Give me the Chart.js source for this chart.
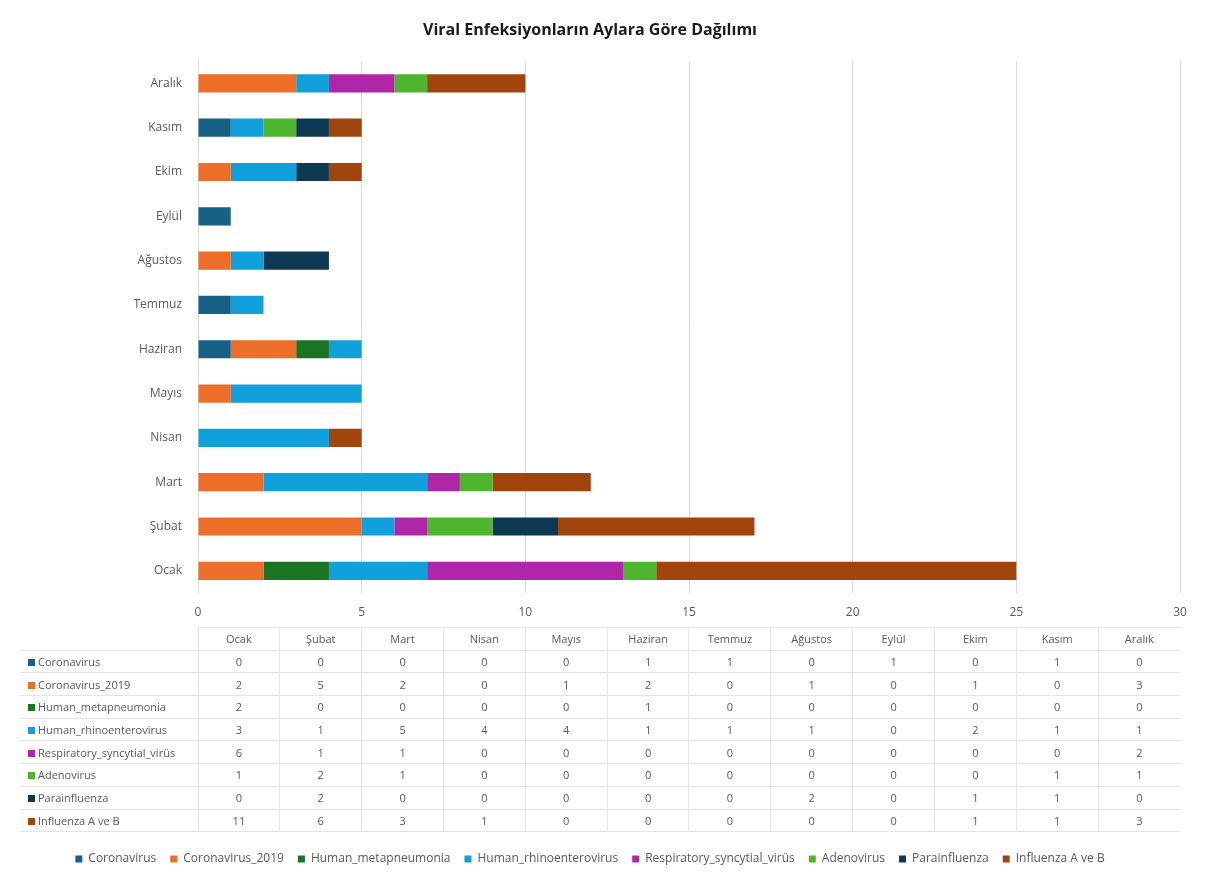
<!DOCTYPE html>
<html>
<head>
    <meta charset="utf-8">
    <title>Viral Enfeksiyonların Aylara Göre Dağılımı</title>
    <script src="https://cdn.jsdelivr.net/npm/chart.js"></script>
    <style>
        body { margin: 0; background: #fff; font-family: "Open Sans", sans-serif; }
        #wrap { position: relative; width: 1205px; height: 879px; }
        #dataTable {
            position: absolute;
            border-collapse: collapse;
            table-layout: fixed;
            font-size: 11px;
            color: #595959;
        }
        #dataTable td, #dataTable th {
            padding: 0;
            text-align: center;
            font-weight: normal;
            border-top: 1px solid #e4e4e4;
            border-left: 1px solid #e4e4e4;
            white-space: nowrap;
            overflow: hidden;
        }
        #dataTable th.corner { border: none; }
        #dataTable td.name { text-align: left; padding-left: 8px; border-left: none; }
        #dataTable tr:last-child td { border-bottom: 1px solid #e4e4e4; }
        .key { display: inline-block; width: 7px; height: 7px; margin-right: 3px; }
    </style>
</head>
<body>
<div id="wrap">
    <canvas id="viralChart" width="1205" height="879"></canvas>
    <table id="dataTable"></table>
</div>
<script>
    const months = ['Ocak', 'Şubat', 'Mart', 'Nisan', 'Mayıs', 'Haziran', 'Temmuz', 'Ağustos', 'Eylül', 'Ekim', 'Kasım', 'Aralık'];

    const coronavirus     = [0, 0, 0, 0, 0, 1, 1, 0, 1, 0, 1, 0];
    const coronavirus2019 = [2, 5, 2, 0, 1, 2, 0, 1, 0, 1, 0, 3];
    const metapneumonia   = [2, 0, 0, 0, 0, 1, 0, 0, 0, 0, 0, 0];
    const rhinoentero     = [3, 1, 5, 4, 4, 1, 1, 1, 0, 2, 1, 1];
    const rsv             = [6, 1, 1, 0, 0, 0, 0, 0, 0, 0, 0, 2];
    const adenovirus      = [1, 2, 1, 0, 0, 0, 0, 0, 0, 0, 1, 1];
    const parainfluenza   = [0, 2, 0, 0, 0, 0, 0, 2, 0, 1, 1, 0];
    const influenza       = [11, 6, 3, 1, 0, 0, 0, 0, 0, 1, 1, 3];

    const xTicks = [0, 5, 10, 15, 20, 25, 30];

    const series = [
        { label: 'Coronavirus', data: coronavirus, color: '#176086' },
        { label: 'Coronavirus_2019', data: coronavirus2019, color: '#ec6e28' },
        { label: 'Human_metapneumonia', data: metapneumonia, color: '#1a7424' },
        { label: 'Human_rhinoenterovirus', data: rhinoentero, color: '#12a0dc' },
        { label: 'Respiratory_syncytial_virüs', data: rsv, color: '#b026a8' },
        { label: 'Adenovirus', data: adenovirus, color: '#4fb42e' },
        { label: 'Parainfluenza', data: parainfluenza, color: '#0d3a52' },
        { label: 'Influenza A ve B', data: influenza, color: '#a2440e' }
    ];

    const tickColor = '#595959';

    const ctx = document.getElementById('viralChart').getContext('2d');
    const viralChart = new Chart(ctx, {
        type: 'bar',
        data: {
            labels: months,
            datasets: series.map(s => ({
                label: s.label,
                data: s.data,
                backgroundColor: s.color,
                borderWidth: 0,
                categoryPercentage: 1,
                barPercentage: 0.41
            }))
        },
        options: {
            indexAxis: 'y',
            responsive: false,
            animation: false,
            layout: { padding: { left: 0, right: 25, top: 0, bottom: 4 } },
            plugins: {
                title: {
                    display: true,
                    text: 'Viral Enfeksiyonların Aylara Göre Dağılımı',
                    color: '#1a1a1a',
                    font: { family: 'Open Sans', size: 16, weight: 'bold' },
                    padding: { top: 21, bottom: 21 }
                },
                legend: {
                    position: 'bottom',
                    labels: {
                        boxWidth: 7,
                        boxHeight: 7,
                        padding: 14,
                        color: tickColor,
                        font: { family: 'Open Sans', size: 12 }
                    }
                },
                tooltip: { enabled: false }
            },
            scales: {
                x: {
                    stacked: true,
                    min: 0,
                    max: 30,
                    afterBuildTicks: (scale) => { scale.ticks = xTicks.map(v => ({ value: v })); },
                    afterFit: (scale) => { scale.height = 246; },
                    grid: { color: '#d9d9d9', drawTicks: false },
                    border: { display: false },
                    ticks: { color: tickColor, padding: 12, font: { family: 'Open Sans', size: 12 } }
                },
                y: {
                    stacked: true,
                    reverse: true,
                    afterFit: (scale) => { scale.width = 198; },
                    grid: { display: false },
                    border: { display: false },
                    ticks: { color: tickColor, padding: 8, font: { family: 'Open Sans', size: 12 } }
                }
            }
        }
    });

    // data table under the value axis, lined up with the plot area
    function buildTable() {
        const area = viralChart.chartArea;
        const table = document.getElementById('dataTable');
        const firstCol = area.left - 20;
        const colW = (area.right - area.left) / months.length;
        const rowH = 22.7;
        table.style.left = '20px';
        table.style.top = (area.bottom + 34) + 'px';
        table.style.width = (firstCol + colW * months.length) + 'px';

        let html = '<colgroup><col style="width:' + firstCol + 'px">';
        months.forEach(() => { html += '<col style="width:' + colW + 'px">'; });
        html += '</colgroup>';
        html += '<tr style="height:' + rowH + 'px"><th class="corner"></th>';
        months.forEach(m => { html += '<th>' + m + '</th>'; });
        html += '</tr>';
        series.forEach(s => {
            html += '<tr style="height:' + rowH + 'px"><td class="name"><span class="key" style="background:' + s.color + '"></span>' + s.label + '</td>';
            s.data.forEach(v => { html += '<td>' + v + '</td>'; });
            html += '</tr>';
        });
        table.innerHTML = html;
    }
    buildTable();
</script>
</body>
</html>
